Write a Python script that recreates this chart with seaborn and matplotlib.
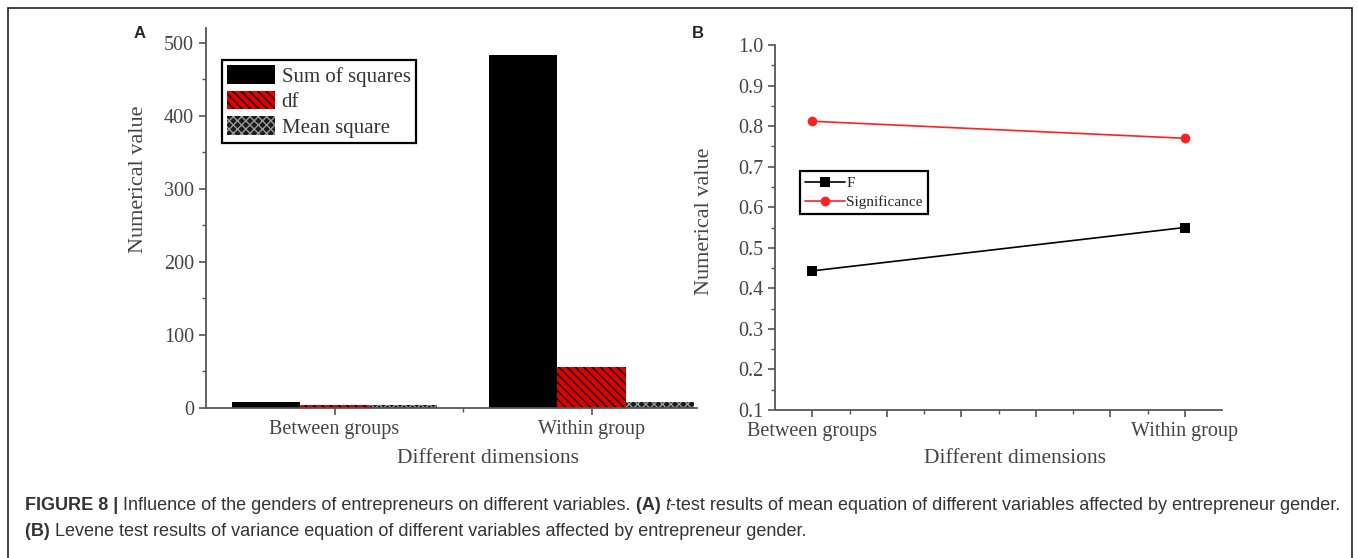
import pandas as pd
import numpy as np
import matplotlib
matplotlib.use("Agg")
import matplotlib.pyplot as plt
import seaborn as sns
from matplotlib.lines import Line2D
from matplotlib.ticker import MultipleLocator

# ---- datos ----
groups = ["Between groups", "Within group"]
measures = ["Sum of squares", "df", "Mean square"]
sum_squares = [8, 483]
df_values = [4, 56]
mean_square = [4, 8]

levene_labels = ["F", "Significance"]
f_values = [0.443, 0.550]
sig_values = [0.812, 0.770]

caption_line1 = [
    ("FIGURE 8 | ", "bold", "normal"),
    ("Influence of the genders of entrepreneurs on different variables. ", "normal", "normal"),
    ("(A) ", "bold", "normal"),
    ("t", "normal", "italic"),
    ("-test results of mean equation of different variables affected by entrepreneur gender.", "normal", "normal"),
]
caption_line2 = [
    ("(B) ", "bold", "normal"),
    ("Levene test results of variance equation of different variables affected by entrepreneur gender.", "normal", "normal"),
]

# ---- estilo ----
sns.set_theme(style="ticks")
serif = ["Liberation Serif", "DejaVu Serif"]
plt.rcParams["font.family"] = serif
plt.rcParams["hatch.linewidth"] = 1.0
axis_col = "#555555"
text_col = "#444444"

W, H = 1358, 558
fig = plt.figure(figsize=(W / 100, H / 100), dpi=100)

def fx(px):
    return px / W

def fy(py):
    return 1 - py / H

# ---- panel A: barras agrupadas ----
axA = fig.add_axes([fx(206), fy(408), fx(697) - fx(206), fy(28) - fy(408)])
df_bar = pd.DataFrame({
    "group": np.repeat(groups, len(measures)),
    "measure": measures * len(groups),
    "value": [v for trio in zip(sum_squares, df_values, mean_square) for v in trio],
})
sns.barplot(data=df_bar, x="group", y="value", hue="measure", hue_order=measures,
            palette=["black", "#e00000", "#1a1a1a"], width=0.8, saturation=1,
            legend=False, ax=axA)

hatches = [None, "\\\\\\\\", "xxxx"]
hatch_cols = [None, "black", "#9a9a9a"]
for cont, hatch, hcol in zip(axA.containers, hatches, hatch_cols):
    for bar in cont:
        bar.set_linewidth(0)
        if hatch:
            bar.set_hatch(hatch)
            bar.set_edgecolor(hcol)

axA.set_xlim(-0.5, 1.41)
axA.set_ylim(0, 520)
axA.set_yticks([0, 100, 200, 300, 400, 500])
axA.yaxis.set_minor_locator(MultipleLocator(50))
axA.set_xticks([0, 1])
axA.set_xticks([0.5], minor=True)
axA.set_xticklabels(groups)
axA.set_xlabel("Different dimensions", fontsize=15.5, color=text_col)
axA.set_ylabel("Numerical value", fontsize=16, color=text_col)
axA.xaxis.set_label_coords(0.574, -0.108)
axA.yaxis.set_label_coords(-0.118, 0.603)
leg = axA.legend(axA.containers, measures, loc="upper left", bbox_to_anchor=(0.033, 0.916),
                 fontsize=15, handlelength=2.3, handleheight=1.0, handletextpad=0.3,
                 labelspacing=0.2, borderpad=0.25, fancybox=False, framealpha=1,
                 edgecolor="black", borderaxespad=0)
leg.get_frame().set_linewidth(1.6)
for t in leg.get_texts():
    t.set_color("#333333")

# ---- panel B: lineas ----
axB = fig.add_axes([fx(775), fy(410), fx(1222) - fx(775), fy(45) - fy(410)])
df_line = pd.DataFrame({
    "pos": [0, 1, 0, 1],
    "value": f_values + sig_values,
    "serie": [levene_labels[0]] * 2 + [levene_labels[1]] * 2,
})
sns.lineplot(data=df_line, x="pos", y="value", hue="serie", style="serie",
             palette=["black", "#ff2020"], markers=["s", "o"], dashes=False,
             markersize=7, linewidth=1.2, markeredgewidth=0, ax=axB)
axB.set_xlim(-0.1, 1.1)
axB.set_ylim(0.1, 1.0)
axB.set_yticks(np.round(np.arange(0.1, 1.01, 0.1), 1))
axB.yaxis.set_minor_locator(MultipleLocator(0.05))
axB.set_xticks(np.round(np.arange(0, 1.01, 0.2), 1))
axB.set_xticks(np.round(np.arange(0.1, 1.0, 0.2), 1), minor=True)
axB.set_xticklabels([groups[0], "", "", "", "", groups[1]])
axB.set_xlabel("Different dimensions", fontsize=15.5, color=text_col)
axB.set_ylabel("Numerical value", fontsize=16, color=text_col)
axB.xaxis.set_label_coords(0.537, -0.107)
axB.yaxis.set_label_coords(-0.136, 0.518)
legB = axB.legend(loc="upper left", bbox_to_anchor=(0.055, 0.655), fontsize=11,
                  handlelength=2.6, handletextpad=0.1, labelspacing=0.35, borderpad=0.35,
                  fancybox=False, framealpha=1, edgecolor="black", borderaxespad=0)
legB.get_frame().set_linewidth(1.6)

for ax in (axA, axB):
    sns.despine(ax=ax)
    for s in ("left", "bottom"):
        ax.spines[s].set_color(axis_col)
        ax.spines[s].set_linewidth(1.3)
    ax.tick_params(which="major", direction="out", length=5, width=1.2, color=axis_col,
                   labelsize=14.5, labelcolor=text_col)
    ax.tick_params(which="minor", direction="out", length=3, width=1.0, color=axis_col)

# ---- etiquetas de panel ----
fig.text(fx(140), fy(33), "A", fontsize=12, fontweight="bold",
         family=["Liberation Sans", "DejaVu Sans"], ha="center", va="center")
fig.text(fx(698), fy(33), "B", fontsize=12, fontweight="bold",
         family=["Liberation Sans", "DejaVu Sans"], ha="center", va="center")

# ---- marco exterior ----
frame_col = "#222222"
fig.add_artist(Line2D([fx(8), fx(1352)], [fy(8), fy(8)], color=frame_col, lw=1.2))
fig.add_artist(Line2D([fx(8), fx(8)], [fy(8), 0], color=frame_col, lw=1.2))
fig.add_artist(Line2D([fx(1352), fx(1352)], [fy(8), 0], color=frame_col, lw=1.2))

# ---- pie de figura ----
cap_family = ["Liberation Sans", "DejaVu Sans"]
renderer = fig.canvas.get_renderer()

def draw_line(pieces, x0, y0):
    x = x0
    for txt, weight, style in pieces:
        t = fig.text(x, y0, txt, fontsize=13, fontweight=weight, fontstyle=style,
                     family=cap_family, color="#333333", ha="left", va="center")
        bb = t.get_window_extent(renderer=renderer)
        x += bb.width / W

draw_line(caption_line1, fx(25), fy(506))
draw_line(caption_line2, fx(25), fy(531))

fig.savefig("out.png", dpi=100)
